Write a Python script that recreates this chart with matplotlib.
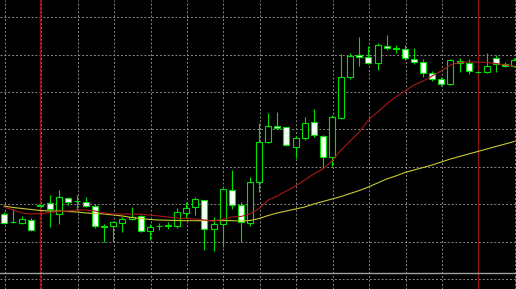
import matplotlib
matplotlib.use('Agg')
import matplotlib.pyplot as plt
from matplotlib.patches import Rectangle
import numpy as np

# OHLC per bar (price in pips above an arbitrary base)
opens = [85.7, 78, 77, 80, 95.5, 97.3, 86, 102.5, 98.7, 98.3,
         94, 74, 74.5, 77.5, 80.7, 84.3, 69.5, 73.8, 74.5, 74,
         87.3, 92.7, 100, 70.7, 76, 110, 95, 77.3, 118.3, 158,
         174, 172.7, 153.5, 161.7, 178.3, 164.3, 143, 182.5, 223, 245,
         243.3, 237.5, 254, 252, 250.7, 240.7, 238, 227.5, 220.7, 216,
         239, 237, 228.2, 228.3, 242.3, 236.5, 234]
highs = [88, 91, 84, 82, 96, 105, 110, 103, 105, 103.5,
         96.5, 76, 79, 83.5, 93.3, 85, 76, 77, 78, 92.5,
         98.3, 103.5, 100.5, 83, 112, 130, 98.3, 123.3, 176.7, 186.7,
         188.3, 173.5, 164, 183, 191, 165, 185, 246.5, 247, 263.3,
         254, 256.7, 265, 255.5, 255, 251.7, 241, 229.5, 223, 240.7,
         241.7, 241.5, 229.5, 247.5, 245, 238, 242]
lows = [76, 77.5, 76, 69, 94, 73, 76, 95, 90, 93,
        72, 58, 58, 68, 80.5, 68.5, 60, 70.5, 71, 71.7,
        82, 85, 50, 49, 53, 91, 58.3, 74, 108.3, 156.7,
        172, 154, 141.7, 160, 163.3, 132, 134, 181, 220.7, 234,
        236.5, 230, 250, 247, 240, 236.5, 223.3, 219.5, 214, 215,
        228.5, 226, 227.5, 227, 228.5, 233, 233]
closes = [77.3, 78.5, 81.5, 70, 94.5, 90.7, 103.5, 98.5, 99, 93.7,
          74, 73.5, 78, 80.7, 83.3, 69.3, 73, 74, 74.7, 88,
          91.7, 100.7, 71, 76, 110.7, 95, 78, 118.3, 158.5, 174,
          172.3, 155, 161.7, 177.5, 165, 143.3, 183.3, 223.5, 244, 243.5,
          237.5, 255, 252.3, 250.7, 241.7, 238, 227.5, 221, 215.7, 240,
          236.7, 229, 228.5, 234.5, 236.5, 234, 240.5]

# moving averages
ma_fast = [93, 90, 87, 86, 86.5, 87.5, 88.5, 89, 90, 90,
           89, 87, 86, 86, 86, 85.7, 85, 84, 83, 82,
           81.5, 81, 80, 79, 80.5, 83, 83.5, 86, 91.5, 100,
           104, 109, 114, 120, 126, 131, 139, 150, 159, 168,
           180, 188, 196, 203, 209, 215, 219, 224, 229, 235,
           237.5, 238, 238, 237.5, 236.5, 235, 234]
ma_slow = [94, 92.5, 91.5, 90.5, 89.5, 89, 89, 88.5, 88, 87,
           86.5, 86, 85, 84, 82.5, 81.5, 80.5, 80, 79.7, 79.5,
           79.3, 79.3, 79.3, 79.5, 79.5, 79.3, 79, 79.5, 81.5, 84.5,
           87, 89, 91, 93, 96, 98.5, 101, 103.5, 106.5, 109.5,
           113, 117, 121, 124, 127.5, 130, 132.5, 135, 138, 141,
           143.5, 146, 148.5, 151, 153.5, 156, 158.5]

period_separators = [4, 52]
level_price = 26.7

bar_color = '#00e000'
bear_fill = '#f4fff4'

fig = plt.figure(figsize=(5.16, 2.89), dpi=100)
fig.patch.set_facecolor('black')
ax = fig.add_axes([0, 0, 1, 1])
ax.set_facecolor('black')

n = len(opens)
ax.set_xlim(-0.44, 56.2)
ax.set_ylim(11, 300)

# dotted chart grid
ax.set_xticks(np.arange(0.08, n, 4))
ax.set_yticks(np.arange(21, 300, 37.4))
ax.grid(True, color='#8a8a8a', linestyle=(0, (2, 2)), linewidth=0.7)
ax.set_axisbelow(True)
ax.tick_params(left=False, bottom=False, labelleft=False, labelbottom=False)
for s in ax.spines.values():
    s.set_visible(False)

for xp in period_separators:
    ax.axvline(xp, color='#8c1414', linewidth=1.0, zorder=1)
ax.axhline(level_price, color='#a0a0a0', linewidth=1.0, zorder=1)

body_w = 0.66
for i, (o, h, l, c) in enumerate(zip(opens, highs, lows, closes)):
    ax.vlines(i, l, h, color=bar_color, linewidth=0.8, zorder=3)
    face = 'black' if c >= o else bear_fill
    ax.add_patch(Rectangle((i - body_w / 2, min(o, c)), body_w, abs(c - o),
                           facecolor=face, edgecolor=bar_color, linewidth=0.8, zorder=4))

x = np.arange(n)
ax.plot(x, ma_slow, color='#c8c832', linewidth=0.8, zorder=5)
ax.plot(x, ma_fast, color='#a81818', linewidth=0.8, zorder=5)

plt.savefig('out.png', dpi=100, facecolor='black')
